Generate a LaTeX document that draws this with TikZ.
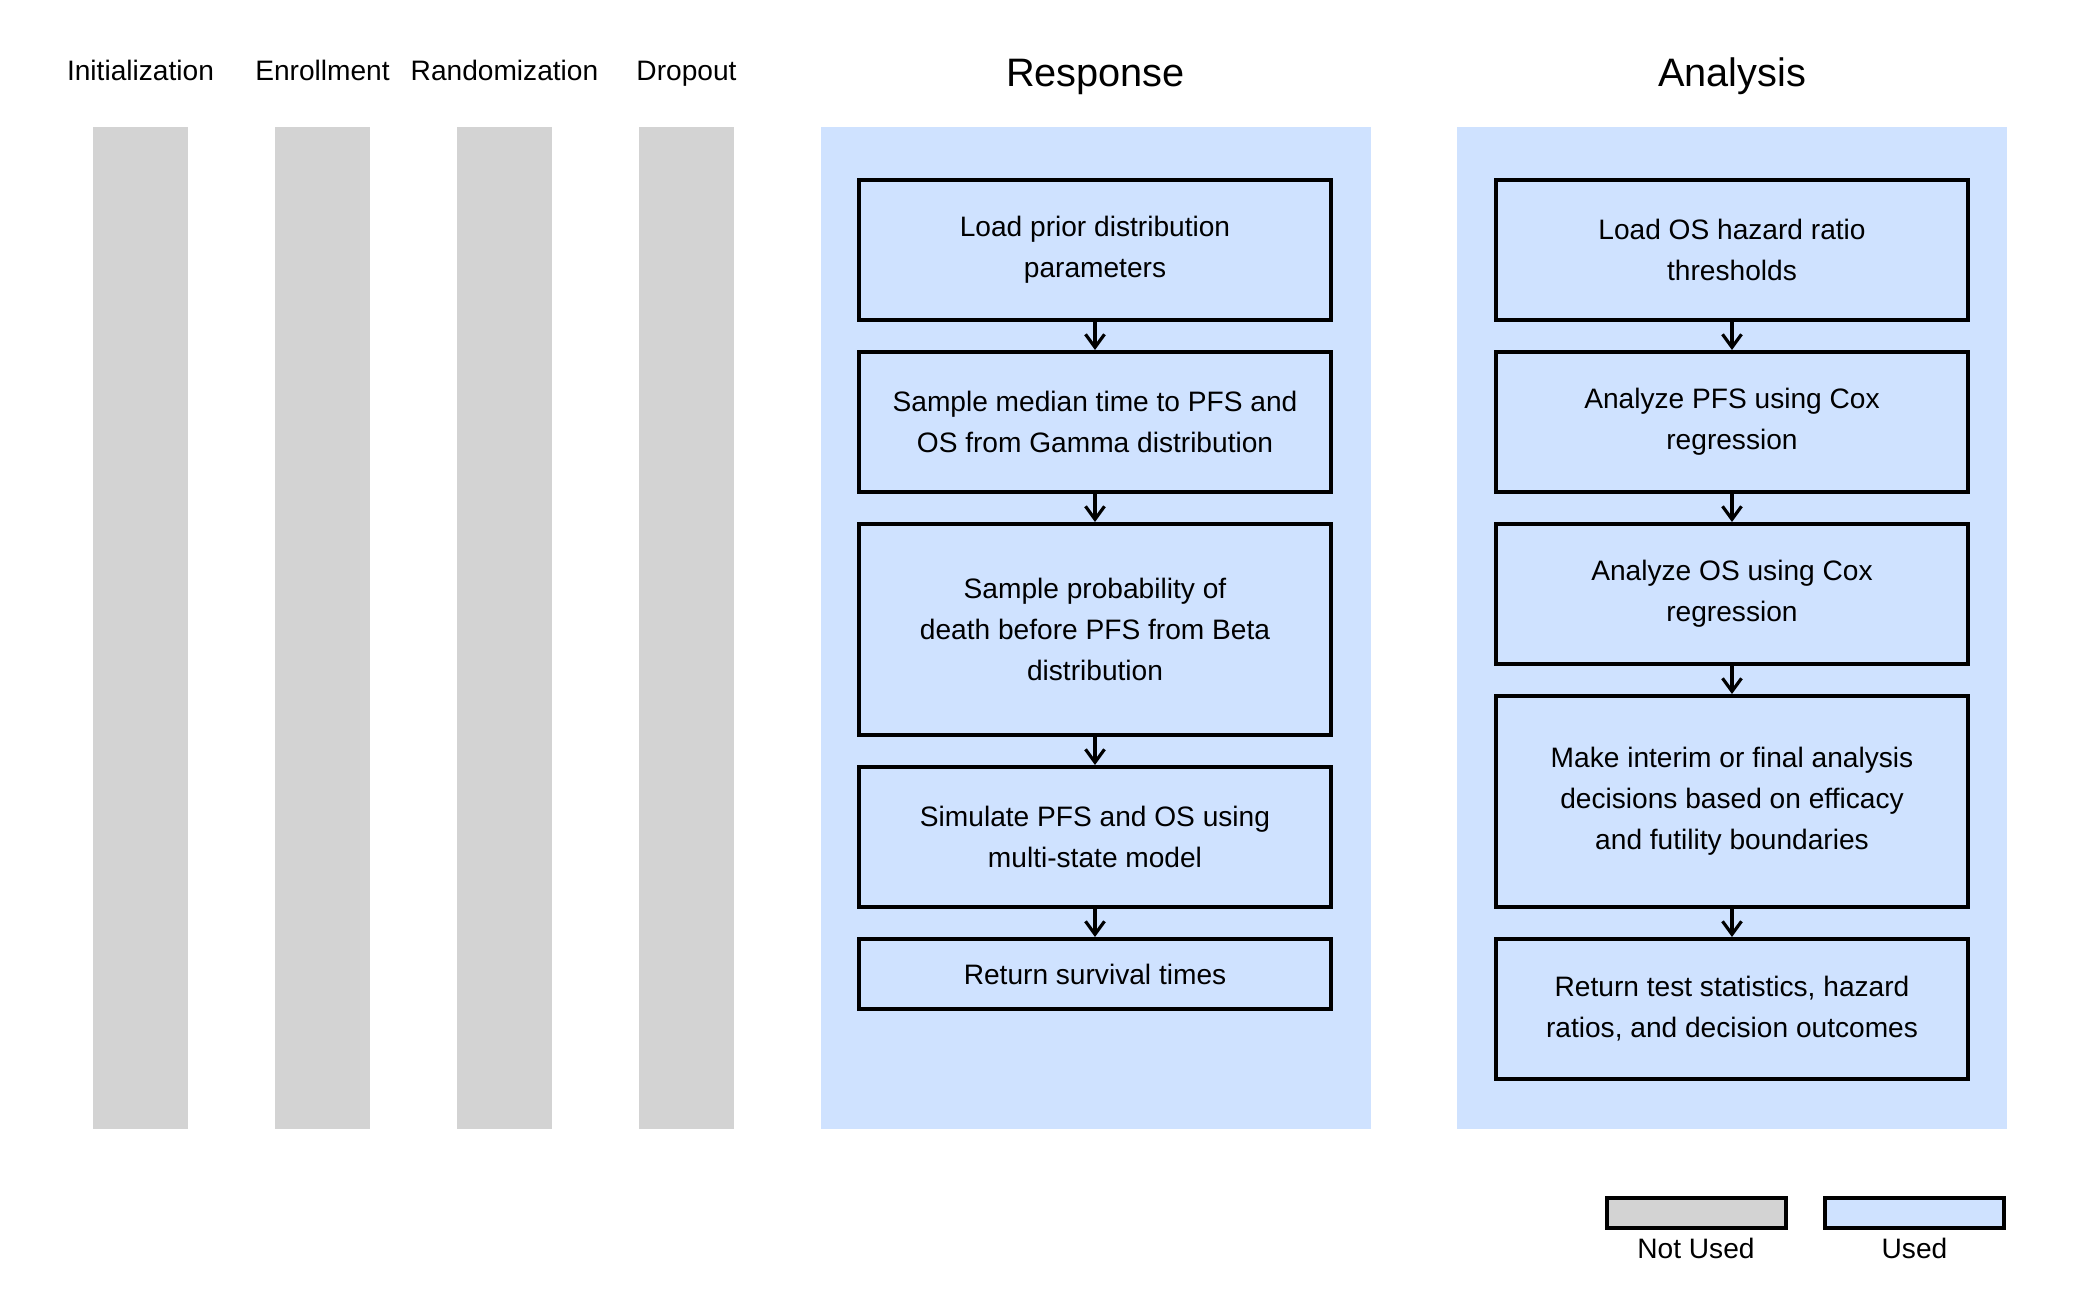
\documentclass[tikz,border=0pt]{standalone}
\usepackage{fontspec}
\setmainfont{Liberation Sans}
\usetikzlibrary{positioning}
\usetikzlibrary{arrows.meta}
\definecolor{usedblue}{RGB}{207,226,255}
\definecolor{unusedgray}{RGB}{211,211,211}
\tikzset{stepbox/.style={draw=black, line width=0.04cm, fill=usedblue,
minimum width=4.72cm, minimum height=1.40cm, inner sep=0pt, align=center,
font=\fontsize{8}{11.7}\selectfont},
phasebar/.style={fill=unusedgray, minimum width=0.95cm, minimum height=10.02cm, inner sep=0pt},
panel/.style={fill=usedblue, minimum width=5.5cm, minimum height=10.02cm, inner sep=0pt},
phaselabel/.style={font=\fontsize{8}{10}\selectfont, inner sep=0pt, anchor=base},
paneltitle/.style={font=\fontsize{11.3}{13}\selectfont, inner sep=0pt, anchor=base},
legendbox/.style={draw=black, line width=0.04cm, minimum width=1.79cm, minimum height=0.30cm, inner sep=0pt}}
\begin{document}
\begin{tikzpicture}[node distance=0.28cm, flow/.style={-{Straight Barb[length=3.7pt,width=5.4pt]}, line width=0.9pt}]
	\useasboundingbox (0,0) rectangle (21,-12.97);
	% phases that are not used
	\foreach \x/\name/\txt in {1.405/init/Initialization, 3.225/enrol/Enrollment, 5.045/rand/Randomization, 6.865/drop/Dropout}{
		\node[phasebar] (\name) at (\x,-6.28) {};
		\node[phaselabel] (\name-lbl) at (\x,-0.81) {\txt};
	}
	% used phases
	\node[panel] (resp) at (10.955,-6.28) {};
	\node[paneltitle] (resp-lbl) at (10.955,-0.87) {Response};
	\node[panel] (anal) at (17.32,-6.28) {};
	\node[paneltitle] (anal-lbl) at (17.32,-0.87) {Analysis};

	% response steps
	\node[stepbox, anchor=north] (r1) at (10.95,-1.78) {Load prior distribution\\parameters};
	\node[stepbox, below=of r1] (r2) {Sample median time to PFS and\\OS from Gamma distribution};
	\node[stepbox, below=of r2, minimum height=2.11cm] (r3) {Sample probability of\\death before PFS from Beta\\distribution};
	\node[stepbox, below=of r3] (r4) {Simulate PFS and OS using\\multi-state model};
	\node[stepbox, below=of r4, minimum height=0.70cm] (r5) {Return survival times};
	\foreach \a/\b in {r1/r2, r2/r3, r3/r4, r4/r5}
		\draw[flow] (\a) -- (\b);

	% analysis steps
	\node[stepbox, anchor=north] (a1) at (17.32,-1.78) {Load OS hazard ratio\\thresholds};
	\node[stepbox, below=of a1] (a2) {Analyze PFS using Cox\\regression};
	\node[stepbox, below=of a2] (a3) {Analyze OS using Cox\\regression};
	\node[stepbox, below=of a3, minimum height=2.11cm] (a4) {Make interim or final analysis\\decisions based on efficacy\\and futility boundaries};
	\node[stepbox, below=of a4] (a5) {Return test statistics, hazard\\ratios, and decision outcomes};
	\foreach \a/\b in {a1/a2, a2/a3, a3/a4, a4/a5}
		\draw[flow] (\a) -- (\b);

	% legend
	\node[legendbox, fill=unusedgray] (key-off) at (16.96,-12.13) {};
	\node[phaselabel] (key-off-lbl) at (16.96,-12.59) {Not Used};
	\node[legendbox, fill=usedblue] (key-on) at (19.145,-12.13) {};
	\node[phaselabel] (key-on-lbl) at (19.145,-12.59) {Used};
\end{tikzpicture}
\end{document}
